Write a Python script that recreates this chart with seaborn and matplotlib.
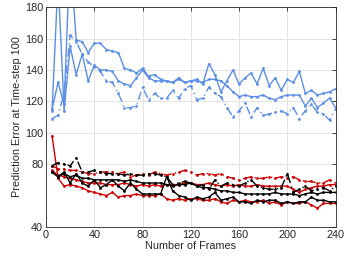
import numpy as np
import pandas as pd
import seaborn as sns
import matplotlib
matplotlib.use("Agg")
import matplotlib.pyplot as plt

# frames 5, 10, ..., 240
frames = list(range(5, 241, 5))

# blue series
blue_a = [114, 198, 114, 155, 137, 150, 133, 143, 140, 140, 139, 133, 131, 130, 135, 140,
          135, 133, 133, 133, 132, 135, 132, 133, 134, 131, 144, 137, 126, 133, 140, 131,
          135, 138, 131, 141, 130, 135, 127, 134, 132, 139, 125, 127, 124, 125, 126, 128]
blue_c = [115, 132, 118, 215, 159, 158, 151, 157, 157, 153, 152, 151, 141, 140, 138, 141,
          136, 137, 134, 133, 132, 134, 132, 133, 133, 132, 134, 134, 133, 130, 126, 123,
          124, 123, 123, 124, 122, 121, 123, 124, 124, 124, 117, 122, 116, 119, 122, 116]
blue_dd = [109, 111, 125, 162, 158, 150, 145, 142, 139, 133, 132, 125, 116, 116, 117, 129,
           121, 125, 122, 122, 127, 122, 128, 130, 121, 122, 129, 125, 123, 116, 110, 114,
           119, 110, 116, 111, 112, 113, 114, 112, 116, 109, 114, 118, 113, 112, 108, 115]

# red series
red_low = [98, 71, 66, 67, 66, 65, 63, 62, 61, 60, 62, 59, 60, 60, 61, 60,
           60, 60, 61, 58, 57, 58, 57, 58, 58, 57, 57, 58, 56, 55, 57, 56,
           57, 56, 56, 57, 55, 56, 54, 56, 55, 55, 56, 54, 52, 55, 55, 55]
red_mid = [76, 73, 72, 71, 70, 69, 68, 68, 68, 67, 67, 67, 68, 67, 66, 67,
           66, 67, 66, 67, 67, 67, 68, 68, 67, 67, 68, 67, 66, 67, 66, 67,
           66, 66, 67, 66, 66, 66, 66, 66, 64, 62, 64, 65, 66, 66, 67, 67]
red_dd = [79, 77, 77, 76, 76, 75, 74, 74, 75, 75, 75, 74, 75, 72, 73, 74,
          73, 75, 74, 73, 74, 75, 76, 75, 73, 74, 74, 73, 74, 72, 71, 70,
          71, 72, 71, 71, 72, 71, 72, 71, 72, 70, 69, 69, 68, 68, 70, 68]

# black series
black_mid = [75, 72, 74, 72, 73, 71, 71, 70, 70, 70, 70, 70, 69, 70, 69, 68,
             68, 68, 68, 67, 66, 67, 67, 68, 66, 65, 65, 64, 63, 63, 62, 62,
             61, 61, 61, 61, 61, 62, 61, 61, 61, 60, 61, 62, 61, 62, 62, 62]
black_jag = [75, 72, 75, 68, 74, 68, 66, 70, 65, 67, 70, 66, 63, 68, 64, 61,
             61, 61, 61, 72, 63, 60, 59, 57, 59, 58, 59, 62, 57, 58, 59, 56,
             56, 55, 57, 56, 57, 57, 55, 56, 55, 56, 56, 59, 57, 57, 56, 56]
black_dd = [79, 81, 80, 79, 84, 75, 75, 76, 75, 74, 74, 74, 73, 74, 73, 73,
            74, 74, 73, 72, 67, 68, 69, 68, 66, 67, 64, 70, 66, 68, 67, 66,
            68, 70, 66, 65, 64, 64, 65, 74, 62, 64, 66, 63, 64, 65, 63, 66]

x_ticks = [0, 40, 80, 120, 160, 200, 240]
y_ticks = [40, 80, 100, 120, 140, 160, 180]

blue = "#5b8fe6"
red = "#cc0000"
black = "#000000"
dashdot = (0, (6, 2.5, 1, 2.5))

series = [
    (blue_a, blue, "-"), (blue_c, blue, "-"), (blue_dd, blue, dashdot),
    (red_low, red, "-"), (red_mid, red, "-"), (red_dd, red, dashdot),
    (black_mid, black, "-"), (black_jag, black, "-"), (black_dd, black, dashdot),
]

sns.set_style("whitegrid")
plt.rcParams['font.family'] = ['Liberation Sans', 'DejaVu Sans']

fig = plt.figure(figsize=(3.47, 2.63), dpi=100)
ax = fig.add_axes([0.1326, 0.137, 0.8344, 0.836])

for vals, col, ls in series:
    sns.lineplot(x=frames, y=vals, ax=ax, color=col, linestyle=ls, linewidth=1.0,
                 marker='o', markersize=2.0, markeredgewidth=0, estimator=None)

ax.set_xlim(0, 240)
ax.set_ylim(40, 180)
ax.set_xticks(x_ticks)
ax.set_yticks(y_ticks)
ax.tick_params(direction='in', length=3, width=0.6, labelsize=7.8, colors='#262626',
               top=True, right=True, pad=2)
ax.grid(True, color='#e3e3e3', linewidth=0.7)
for s in ax.spines.values():
    s.set_color('#262626')
    s.set_linewidth(0.6)
ax.set_xlabel("Number of Frames", fontsize=7.8, color='#262626', labelpad=1)
ax.set_ylabel("Prediction Error at Time-step 100", fontsize=7.8, color='#262626', labelpad=2)

fig.savefig("out.png", dpi=100)
